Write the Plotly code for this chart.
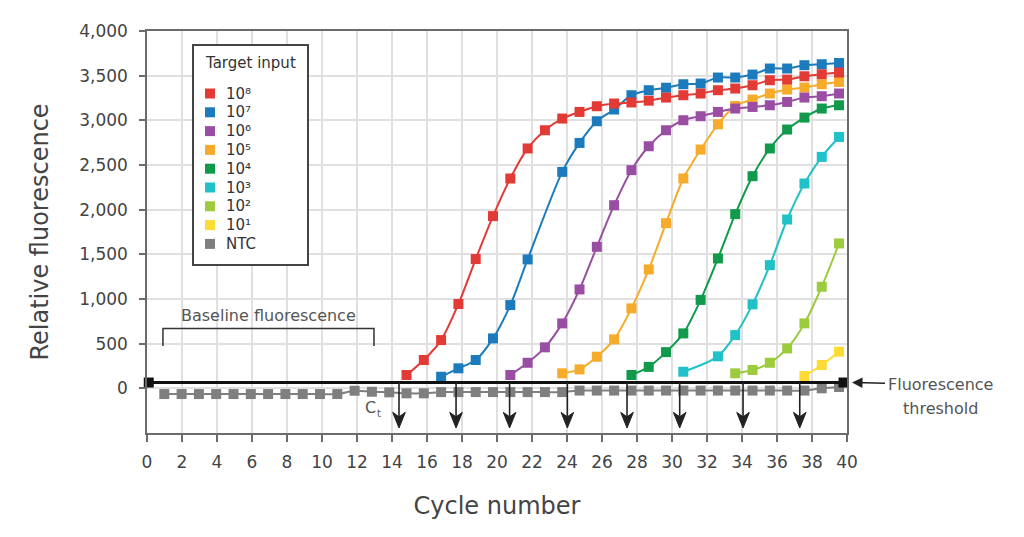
import plotly.graph_objects as go

# ---------------- data ----------------
labels = ["10⁸", "10⁷", "10⁶", "10⁵", "10⁴", "10³", "10²", "10¹", "NTC"]
colors = ["#e23a35", "#1c7bbd", "#9a4ea3", "#f6ab2a", "#119a4b",
          "#20c1c8", "#9dcb3e", "#fddb34", "#7f7f7f"]

cyc_1e8 = list(range(15, 41))
val_1e8 = [149, 317, 540, 944, 1447, 1928, 2349, 2685, 2889, 3020, 3094, 3158, 3188, 3200,
           3220, 3255, 3281, 3300, 3337, 3356, 3393, 3449, 3456, 3493, 3516, 3535]

cyc_1e7 = [17, 18, 19, 20, 21, 22, 24, 25, 26, 27, 28, 29, 30, 31, 32, 33, 34, 35, 36, 37, 38, 39, 40]
val_1e7 = [130, 224, 317, 559, 932, 1443, 2423, 2747, 2990, 3121, 3281, 3337, 3365, 3404,
           3412, 3479, 3479, 3512, 3580, 3580, 3617, 3628, 3642]

cyc_1e6 = list(range(21, 41))
val_1e6 = [149, 286, 459, 727, 1107, 1584, 2050, 2442, 2710, 2889, 3001, 3046, 3094, 3132,
           3150, 3169, 3206, 3255, 3270, 3300]

cyc_1e5 = list(range(24, 41))
val_1e5 = [168, 212, 354, 548, 895, 1331, 1849, 2349, 2673, 2956, 3161, 3233, 3300, 3345,
           3367, 3404, 3430]

cyc_1e4 = list(range(28, 41))
val_1e4 = [149, 240, 405, 615, 990, 1454, 1950, 2375, 2685, 2897, 3031, 3132, 3169]

cyc_1e3 = [31, 33, 34, 35, 36, 37, 38, 39, 40]
val_1e3 = [186, 358, 596, 940, 1379, 1890, 2293, 2591, 2814]

cyc_1e2 = [34, 35, 36, 37, 38, 39, 40]
val_1e2 = [168, 205, 286, 447, 727, 1137, 1622]

cyc_1e1 = [38, 39, 40]
val_1e1 = [138, 261, 410]

cyc_ntc = list(range(1, 41))
val_ntc = [-64, -64, -64, -64, -64, -64, -64, -64, -64, -64, -64, -27, -38, -45, -56, -56,
           -42, -42, -42, -42, -42, -42, -42, -42, -25, -25, -25, -25, -25, -25, -25, -25,
           -25, -25, -25, -25, -25, -25, 0, 15]

threshold = 65
threshold_cycles = [0.1, 39.8]
ct_values = [14.4, 17.66, 20.72, 24.02, 27.43, 30.44, 34.06, 37.3]
ct_arrow_tip = -444
baseline_cycles = [0.91, 12.97]
baseline_levels = [473, 671]

x_ticks = list(range(0, 41, 2))
y_ticks = list(range(0, 4001, 500))

series_cycles = [cyc_1e8, cyc_1e7, cyc_1e6, cyc_1e5, cyc_1e4, cyc_1e3, cyc_1e2, cyc_1e1, cyc_ntc]
series_values = [val_1e8, val_1e7, val_1e6, val_1e5, val_1e4, val_1e3, val_1e2, val_1e1, val_ntc]

# ---------------- figure ----------------
FONT = "DejaVu Sans"
TXT = "#444444"
GRID = "#e0e0e0"
AXC = "#6b6b6b"

W, H = 1024, 537
ML, MR, MT, MB = 147, 177, 31, 104
PW, PH = W - ML - MR, H - MT - MB


def px_x(px):
    return (px - ML) / PW


def px_y(py):
    return (H - MB - py) / PH


fig = go.Figure()

# data curves (NTC first, then low to high input)
for i in reversed(range(len(labels))):
    fig.add_trace(go.Scatter(
        x=series_cycles[i], y=series_values[i], mode="lines+markers", name=labels[i],
        line=dict(color=colors[i], width=2, shape="spline", smoothing=0.8),
        marker=dict(symbol="square", size=10, color=colors[i]),
        showlegend=False, cliponaxis=False, xaxis="x", yaxis="y",
        hoverinfo="skip"))

# threshold line
fig.add_trace(go.Scatter(
    x=threshold_cycles, y=[threshold, threshold], mode="lines+markers", name="Fluorescence threshold",
    line=dict(color="#111111", width=3),
    marker=dict(symbol="square", size=10, color="#111111"),
    showlegend=False, cliponaxis=False, xaxis="x2", yaxis="y", hoverinfo="skip"))

shapes = []
# Ct arrows (stem + notched head), in axis coordinates
head_half_w = 0.36    # cycles
head_len = 175        # fluorescence units
head_notch = 125
for ct in ct_values:
    shapes.append(dict(type="line", xref="x2", yref="y", x0=ct, x1=ct,
                       y0=threshold, y1=ct_arrow_tip + head_notch,
                       line=dict(color="#222222", width=1.6)))
    shapes.append(dict(type="path", xref="x2", yref="y",
                       path=(f"M {ct - head_half_w},{ct_arrow_tip + head_len} L {ct},{ct_arrow_tip} "
                             f"L {ct + head_half_w},{ct_arrow_tip + head_len} L {ct},{ct_arrow_tip + head_notch} Z"),
                       fillcolor="#222222", line=dict(color="#222222", width=1)))

# baseline bracket
shapes.append(dict(type="path", xref="x2", yref="y",
                   path=(f"M {baseline_cycles[0]},{baseline_levels[0]} L {baseline_cycles[0]},{baseline_levels[1]} "
                         f"L {baseline_cycles[1]},{baseline_levels[1]} L {baseline_cycles[1]},{baseline_levels[0]}"),
                   line=dict(color="#333333", width=1.5)))

annotations = []
annotations.append(dict(x=(baseline_cycles[0] + baseline_cycles[1]) / 2, y=820, xref="x2", yref="y",
                        text="Baseline fluorescence", showarrow=False,
                        font=dict(family=FONT, size=16, color="#555555")))
# "Ct" label: C with a small subscript t
annotations.append(dict(x=px_x(370), y=px_y(407), xref="paper", yref="paper", text="C",
                        showarrow=False, xanchor="center", yanchor="middle",
                        font=dict(family=FONT, size=16, color="#555555")))
annotations.append(dict(x=px_x(375), y=px_y(413), xref="paper", yref="paper", text="t",
                        showarrow=False, xanchor="left", yanchor="middle",
                        font=dict(family=FONT, size=10, color="#555555")))
annotations.append(dict(x=px_x(852), y=threshold, xref="paper", yref="y", ax=88, ay=2,
                        text="Fluorescence", showarrow=True, arrowhead=2, arrowsize=1.4,
                        arrowwidth=1.5, arrowcolor="#222222", standoff=0, borderpad=2,
                        xanchor="center", yanchor="middle",
                        font=dict(family=FONT, size=16, color="#555555")))
annotations.append(dict(x=px_x(940), y=px_y(408), xref="paper", yref="paper",
                        text="threshold", showarrow=False, xanchor="center", yanchor="middle",
                        font=dict(family=FONT, size=16, color="#555555")))

# legend box (manual, to match the compact original)
LEG_L, LEG_R, LEG_T, LEG_B = 193, 308, 45, 265
shapes.append(dict(type="rect", xref="paper", yref="paper", layer="above",
                   x0=px_x(LEG_L), x1=px_x(LEG_R), y0=px_y(LEG_B), y1=px_y(LEG_T),
                   fillcolor="white", line=dict(color="#444444", width=2)))
annotations.append(dict(x=px_x((LEG_L + LEG_R) / 2), y=px_y(63), xref="paper", yref="paper",
                        text="Target input", showarrow=False, xanchor="center", yanchor="middle",
                        font=dict(family=FONT, size=15, color="#333333")))
ENTRY_Y0, ENTRY_STEP, SW_X, SW_HALF, TEXT_X = 93.5, 18.8, 210, 5, 224
for k, (lab, col) in enumerate(zip(labels, colors)):
    cy = ENTRY_Y0 + k * ENTRY_STEP
    shapes.append(dict(type="rect", xref="paper", yref="paper", layer="above",
                       x0=px_x(SW_X - SW_HALF), x1=px_x(SW_X + SW_HALF),
                       y0=px_y(cy + SW_HALF), y1=px_y(cy - SW_HALF),
                       fillcolor=col, line=dict(width=0)))
    annotations.append(dict(x=px_x(TEXT_X), y=px_y(cy), xref="paper", yref="paper",
                            text=lab, showarrow=False, xanchor="left", yanchor="middle",
                            font=dict(family=FONT, size=15, color="#333333")))

fig.update_layout(
    width=W, height=H,
    margin=dict(l=ML, r=MR, t=MT, b=MB),
    paper_bgcolor="white", plot_bgcolor="white",
    font=dict(family=FONT, color=TXT),
    showlegend=False,
    xaxis=dict(domain=[0, 1], range=[0, 40.46], visible=False, fixedrange=True),
    xaxis2=dict(overlaying="x", anchor="y", side="bottom", range=[0, 40],
                tickmode="array", tickvals=x_ticks,
                showgrid=True, gridcolor=GRID, gridwidth=1.5, zeroline=False,
                showline=True, linecolor=AXC, linewidth=1.5, mirror=True,
                ticks="outside", ticklen=7, tickwidth=1.5, tickcolor=AXC,
                tickfont=dict(family=FONT, size=17, color=TXT), ticklabelstandoff=6,
                title=dict(text="Cycle number", font=dict(family=FONT, size=24, color=TXT), standoff=26)),
    yaxis=dict(range=[-500, 4000], tickmode="array", tickvals=y_ticks, tickformat=",d",
               showgrid=True, gridcolor=GRID, gridwidth=1.5, zeroline=False,
               showline=True, linecolor=AXC, linewidth=1.5, mirror=True,
               ticks="outside", ticklen=6, tickwidth=1.5, tickcolor=AXC,
               tickfont=dict(family=FONT, size=17, color=TXT), ticklabelstandoff=8,
               title=dict(text="Relative fluorescence", font=dict(family=FONT, size=24, color=TXT), standoff=24)),
    annotations=annotations, shapes=shapes,
)

fig.write_html("out.html", config={"displayModeBar": False},
               post_script="document.body.style.margin='0';")
